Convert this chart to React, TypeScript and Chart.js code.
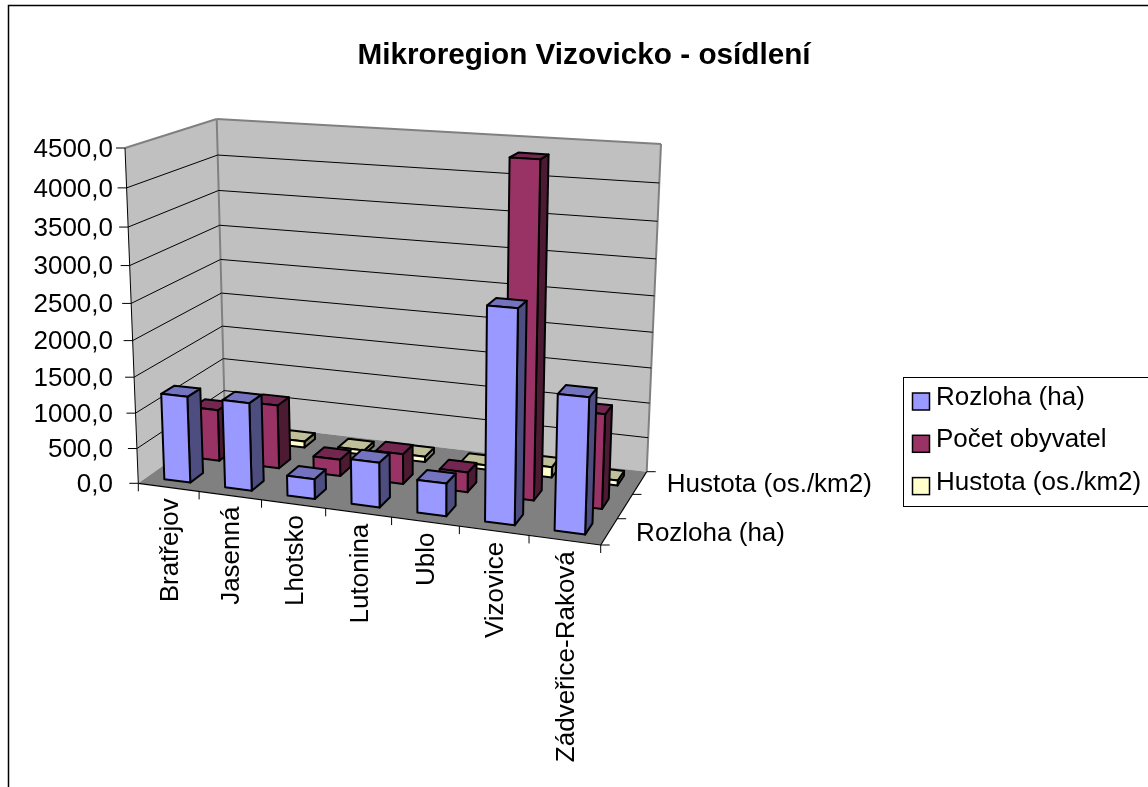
import React, { useEffect, useRef } from "react";
import { Chart, registerables, LinearScale } from "chart.js";

Chart.register(...registerables);

const categories = ["Bratřejov", "Jasenná", "Lhotsko", "Lutonina", "Ublo", "Vizovice", "Zádveřice-Raková"];
const seriesNames = ["Rozloha (ha)", "Počet obyvatel", "Hustota (os./km2)"];
const rozloha = [1220, 1230, 280, 620, 450, 2830, 1800];
const pocet = [750, 920, 240, 430, 280, 4480, 1300];
const hustota = [80, 90, 65, 80, 60, 150, 70];
const depthTickLabels = ["Rozloha (ha)", "", "Hustota (os./km2)"];
const yTicks = { min: 0, max: 4500, step: 500 };

const fills = ["#9999FF", "#993366", "#FFFFCC"];
const sides = ["#4D4D80", "#4D1A33", "#808066"];
const tops = ["#7373BF", "#732650", "#BFBF99"];

const FONT = '"Liberation Sans", Arial, sans-serif';
const FS = 26;

type Pt = [number, number];
// projected corners of the plot box: front-left, front-right, back-right, back-left
const floorQuad: Pt[] = [[138.3, 483.3], [600.7, 545], [646.7, 471.7], [225, 422]];
const topQuad: Pt[] = [[125, 148], [613, 180], [661, 144], [216.7, 119]];

function homography(q: Pt[]) {
  const [[x0, y0], [x1, y1], [x2, y2], [x3, y3]] = q;
  const dx1 = x1 - x2, dx2 = x3 - x2, sx = x0 - x1 + x2 - x3;
  const dy1 = y1 - y2, dy2 = y3 - y2, sy = y0 - y1 + y2 - y3;
  const d = dx1 * dy2 - dx2 * dy1;
  const g = (sx * dy2 - dx2 * sy) / d;
  const h = (dx1 * sy - sx * dy1) / d;
  const a = x1 - x0 + g * x1, b = x3 - x0 + h * x3;
  const c = y1 - y0 + g * y1, e = y3 - y0 + h * y3;
  return (u: number, v: number): Pt => {
    const w = g * u + h * v + 1;
    return [(a * u + b * v + x0) / w, (c * u + e * v + y0) / w];
  };
}
const floorH = homography(floorQuad);
const topH = homography(topQuad);
function P(u: number, v: number, t: number): Pt {
  const f = floorH(u, v), p = topH(u, v);
  return [f[0] + (p[0] - f[0]) * t, f[1] + (p[1] - f[1]) * t];
}

// Value axis with the slight perspective compression of the 3-D view
class PerspectiveScale extends LinearScale {
  static id = "perspective";
  static defaults = LinearScale.defaults;
  getPixelForValue(value: number) {
    const w = (value - this.min) / (this.max - this.min);
    const t = w / (1 + 0.08 * (1 - w));
    return this.bottom - t * (this.bottom - this.top);
  }
}
Chart.register(PerspectiveScale);

function poly(ctx: CanvasRenderingContext2D, pts: Pt[], fill: string | null, stroke: string | null, lw = 1) {
  ctx.beginPath();
  pts.forEach((p, i) => (i ? ctx.lineTo(p[0], p[1]) : ctx.moveTo(p[0], p[1])));
  ctx.closePath();
  if (fill) { ctx.fillStyle = fill; ctx.fill(); }
  if (stroke) { ctx.strokeStyle = stroke; ctx.lineWidth = lw; ctx.stroke(); }
}
function line(ctx: CanvasRenderingContext2D, a: Pt, b: Pt, color: string, lw = 1) {
  ctx.beginPath();
  ctx.moveTo(a[0], a[1]);
  ctx.lineTo(b[0], b[1]);
  ctx.strokeStyle = color;
  ctx.lineWidth = lw;
  ctx.stroke();
}

const BAR_FRAC = 0.43;

const scene3d = {
  id: "scene3d",
  beforeDraw(chart: any) {
    const ctx: CanvasRenderingContext2D = chart.ctx;
    ctx.save();
    ctx.fillStyle = "#FFFFFF";
    ctx.fillRect(0, 0, chart.width, chart.height);
    ctx.strokeStyle = "#000000";
    ctx.lineWidth = 1.5;
    ctx.strokeRect(8.5, 5.5, chart.width + 50, chart.height + 50);
    ctx.restore();
  },
  beforeDatasetsDraw(chart: any) {
    const ctx: CanvasRenderingContext2D = chart.ctx;
    const xs = chart.scales.x, ys = chart.scales.y, zs = chart.scales.depth;
    const U = (i: number) => (xs.getPixelForValue(i) - xs.left) / xs.width;
    const V = (i: number) => (zs.getPixelForValue(i) - zs.left) / zs.width;
    const T = (val: number) => (ys.bottom - ys.getPixelForValue(val)) / ys.height;
    const du = (BAR_FRAC / categories.length) / 2;
    const dv = (BAR_FRAC / seriesNames.length) / 2;

    ctx.save();
    ctx.lineJoin = "round";
    // walls
    poly(ctx, [P(0, 0, 0), P(0, 1, 0), P(0, 1, 1), P(0, 0, 1)], "#C0C0C0", null);
    poly(ctx, [P(0, 1, 0), P(1, 1, 0), P(1, 1, 1), P(0, 1, 1)], "#C0C0C0", null);
    line(ctx, P(0, 0, 1), P(0, 1, 1), "#808080", 2);
    line(ctx, P(0, 1, 1), P(1, 1, 1), "#808080", 2);
    line(ctx, P(1, 1, 1), P(1, 1, 0), "#808080", 2);
    line(ctx, P(0, 1, 0), P(0, 1, 1), "#808080", 2);
    // value grid lines and tick marks
    ys.ticks.forEach((tk: any) => {
      const t = T(tk.value);
      if (tk.value > 0 && tk.value < ys.max) {
        line(ctx, P(0, 0, t), P(0, 1, t), "#000000");
        line(ctx, P(0, 1, t), P(1, 1, t), "#000000");
      }
      const a = P(0, 0, t);
      line(ctx, [a[0] - 9, a[1]], a, "#000000");
    });
    line(ctx, P(0, 0, 0), P(0, 0, 1), "#000000", 1);
    // floor
    poly(ctx, [P(0, 0, 0), P(1, 0, 0), P(1, 1, 0), P(0, 1, 0)], "#808080", null);
    line(ctx, P(0, 0, 0), P(1, 0, 0), "#000000", 1.2);
    line(ctx, P(1, 0, 0), P(1, 1, 0), "#000000", 1.2);
    // category ticks
    for (let i = 0; i <= categories.length; i++) {
      const a = P(i / categories.length, 0, 0);
      line(ctx, a, [a[0], a[1] + 8], "#000000");
    }
    // depth ticks
    for (let i = 0; i <= seriesNames.length; i++) {
      const a = P(1, i / seriesNames.length, 0);
      line(ctx, a, [a[0] + 9, a[1]], "#000000");
    }
    // bars: back to front, left to right
    for (let s = seriesNames.length - 1; s >= 0; s--) {
      const data = chart.data.datasets[s].data as number[];
      data.forEach((val, i) => {
        const u0 = U(i) - du, u1 = U(i) + du;
        const v0 = V(s) - dv, v1 = V(s) + dv;
        const t = T(val);
        const lw = 2;
        poly(ctx, [P(u1, v0, 0), P(u1, v1, 0), P(u1, v1, t), P(u1, v0, t)], sides[s], "#000000", lw);
        poly(ctx, [P(u0, v0, t), P(u1, v0, t), P(u1, v1, t), P(u0, v1, t)], tops[s], "#000000", lw);
        poly(ctx, [P(u0, v0, 0), P(u1, v0, 0), P(u1, v0, t), P(u0, v0, t)], fills[s], "#000000", lw);
      });
    }
    ctx.restore();
    return false;
  },
  afterDraw(chart: any) {
    const ctx: CanvasRenderingContext2D = chart.ctx;
    const xs = chart.scales.x, zs = chart.scales.depth;
    ctx.save();
    ctx.fillStyle = "#000000";
    ctx.font = `${FS}px ${FONT}`;
    // category labels, rotated
    categories.forEach((_, i) => {
      const u = (xs.getPixelForValue(i) - xs.left) / xs.width;
      const a = P(u, 0, 0);
      ctx.save();
      ctx.translate(a[0] + 2, a[1] + 11);
      ctx.rotate(-Math.PI / 2);
      ctx.textAlign = "right";
      ctx.textBaseline = "middle";
      ctx.fillText(xs.getLabelForValue(i), 0, 0);
      ctx.restore();
    });
    // depth labels
    ctx.textAlign = "left";
    ctx.textBaseline = "middle";
    depthTickLabels.forEach((lab, i) => {
      if (!lab) return;
      const v = (zs.getPixelForValue(i) - zs.left) / zs.width;
      const a = P(1, v, 0);
      ctx.fillText(lab, a[0] + 27, a[1] + 2);
    });
    // legend
    const lx = 903, ly = 377, lh = 129;
    ctx.fillStyle = "#FFFFFF";
    ctx.fillRect(lx, ly, chart.width, lh);
    ctx.strokeStyle = "#000000";
    ctx.lineWidth = 1;
    ctx.strokeRect(lx + 0.5, ly + 0.5, chart.width, lh);
    chart.data.datasets.forEach((ds: any, i: number) => {
      const cy = 398 + i * 42.3;
      ctx.fillStyle = ds.backgroundColor;
      ctx.fillRect(912.5, cy - 5, 17, 17);
      ctx.strokeStyle = "#000000";
      ctx.lineWidth = 1.5;
      ctx.strokeRect(912.5, cy - 5, 17, 17);
      ctx.fillStyle = "#000000";
      ctx.fillText(ds.label, 936, cy);
    });
    ctx.restore();
  },
};

export default function App() {
  const ref = useRef<HTMLCanvasElement | null>(null);
  useEffect(() => {
    if (!ref.current) return;
    const chart = new Chart(ref.current, {
      type: "bar",
      data: {
        labels: categories,
        datasets: [
          { label: seriesNames[0], data: rozloha, backgroundColor: fills[0] },
          { label: seriesNames[1], data: pocet, backgroundColor: fills[1] },
          { label: seriesNames[2], data: hustota, backgroundColor: fills[2] },
        ],
      },
      options: {
        animation: false,
        responsive: false,
        layout: { padding: { top: 38, left: 20, right: 0, bottom: 787 - 483.3 } },
        plugins: {
          legend: { display: false },
          tooltip: { enabled: false },
          title: {
            display: true,
            text: "Mikroregion Vizovicko - osídlení",
            color: "#000000",
            font: { family: FONT, size: 29.7, weight: "bold", lineHeight: 1.2 },
            padding: { top: 0, bottom: 74.4 },
          },
        },
        scales: {
          x: { display: false, offset: true },
          depth: { type: "category", axis: "x", labels: seriesNames, display: false, offset: true },
          y: {
            type: "perspective",
            min: yTicks.min,
            max: yTicks.max,
            afterFit: (s: any) => { s.width = 105; },
            border: { display: false },
            grid: { display: false, drawTicks: false },
            ticks: {
              stepSize: yTicks.step,
              padding: 12,
              labelOffset: 1.5,
              color: "#000000",
              font: { family: FONT, size: FS },
              callback: (v: any) => Number(v).toFixed(1).replace(".", ","),
            },
          },
        },
      } as any,
      plugins: [scene3d as any],
    });
    return () => chart.destroy();
  }, []);
  return (
    <canvas
      ref={ref}
      width={1148}
      height={787}
      style={{ position: "absolute", left: 0, top: 0, display: "block" }}
    />
  );
}
